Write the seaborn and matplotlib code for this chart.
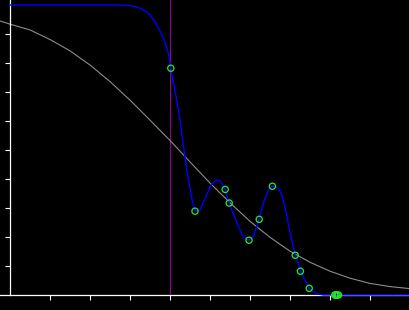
import numpy as np
import pandas as pd
import matplotlib
matplotlib.use("Agg")
import matplotlib.pyplot as plt
import seaborn as sns

# Smooth reference curve (gray)
gray_x = [-0.25, 0.0, 0.5, 1.0, 1.5, 2.0, 2.5, 3.0, 3.5, 4.0, 4.5, 5.0,
          5.5, 6.0, 6.5, 7.0, 7.5, 8.0, 8.5, 9.0, 9.5, 10.0]
gray_y = [0.945, 0.934, 0.914, 0.881, 0.842, 0.793, 0.736, 0.672, 0.603, 0.533, 0.459,
          0.386, 0.318, 0.254, 0.199, 0.151, 0.113, 0.082, 0.058, 0.040, 0.029, 0.022]

# Interpolating curve (blue)
blue_x = [0.0, 2.75, 3.1, 3.25, 3.4, 3.5, 3.6, 3.67, 3.75, 3.83, 3.96, 4.02, 4.125, 4.25,
          4.35, 4.46, 4.57, 4.64, 4.75, 4.875, 5.0, 5.125, 5.21, 5.29, 5.38, 5.48, 5.58,
          5.71, 5.83, 5.96, 6.08, 6.23, 6.33, 6.46, 6.56, 6.62, 6.7, 6.78, 6.875, 7.0,
          7.08, 7.13, 7.21, 7.26, 7.375, 7.48, 7.58, 7.71, 7.83, 10.0]
blue_y = [1.0, 1.0, 0.996, 0.989, 0.977, 0.966, 0.946, 0.931, 0.910, 0.886, 0.834, 0.782,
          0.707, 0.603, 0.500, 0.397, 0.317, 0.288, 0.293, 0.333, 0.373, 0.394, 0.397,
          0.387, 0.364, 0.317, 0.282, 0.236, 0.201, 0.189, 0.201, 0.261, 0.316, 0.362,
          0.375, 0.374, 0.368, 0.350, 0.304, 0.214, 0.168, 0.137, 0.109, 0.082, 0.052,
          0.023, 0.011, 0.003, 0.0, 0.0]

# Sample points (green)
pts_x = [4.02, 4.625, 5.38, 5.48, 5.975, 6.23, 6.56, 7.13, 7.26, 7.48, 8.12, 8.15, 8.18, 8.21]
pts_y = [0.782, 0.289, 0.364, 0.317, 0.189, 0.261, 0.375, 0.137, 0.082, 0.023, 0.0, 0.0, 0.0, 0.0]

vline_x = 4.0
x_ticks = [1, 2, 3, 4, 5, 6, 7, 8, 9]
y_ticks = [0.1, 0.2, 0.3, 0.4, 0.5, 0.6, 0.7, 0.8, 0.9]

sns.set_style("dark")
plt.rcParams['font.family'] = ['DejaVu Sans']

fig = plt.figure(figsize=(4.1, 3.1), dpi=100, facecolor="black")
ax = fig.add_axes([0, 15 / 310, 1, 295 / 310])
ax.set_facecolor("black")

ax.axvline(vline_x, color="#860a8c", lw=0.8, zorder=1)
sns.lineplot(x=gray_x, y=gray_y, ax=ax, color="#8c8c8c", lw=0.8,
             estimator=None, sort=False, zorder=2)
sns.lineplot(x=blue_x, y=blue_y, ax=ax, color="#0000ff", lw=1.0,
             estimator=None, sort=False, zorder=3)
for line in ax.lines:
    line.set_clip_on(False)
sns.scatterplot(x=pts_x, y=pts_y, ax=ax, s=20, marker="o",
                facecolors="none", edgecolor="#22ee22", linewidth=0.9,
                zorder=4, clip_on=False)

ax.set_xlim(-0.25, 10)
ax.set_ylim(0, 295 / 290)
ax.set_xticks(x_ticks)
ax.set_yticks(y_ticks)
ax.set_xticklabels([])
ax.set_yticklabels([])
ax.tick_params(axis="both", direction="out", length=3.5, width=0.8,
               color="white", bottom=True, left=True)
ax.spines["left"].set_position(("data", 0))
for side in ["left", "bottom"]:
    ax.spines[side].set_visible(True)
    ax.spines[side].set_color("white")
    ax.spines[side].set_linewidth(0.9)
for side in ["top", "right"]:
    ax.spines[side].set_visible(False)
ax.grid(False)
ax.set_xlabel("")
ax.set_ylabel("")

fig.savefig("out.png", dpi=100, facecolor="black")
